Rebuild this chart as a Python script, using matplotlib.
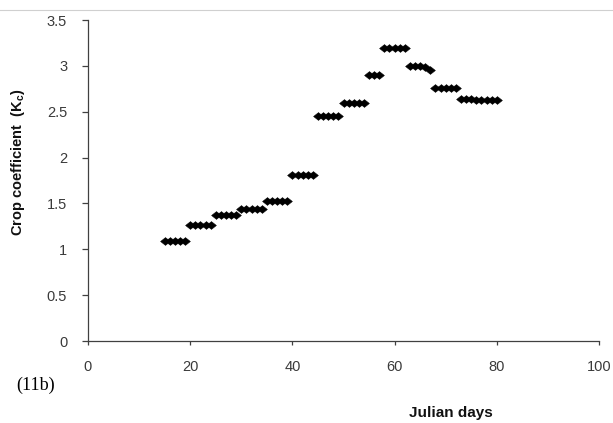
import matplotlib
matplotlib.use("Agg")
import matplotlib.pyplot as plt
from matplotlib.lines import Line2D

days = list(range(15, 81))
kc = ([1.09]*5 + [1.26]*5 + [1.37]*5 + [1.44]*5 + [1.53]*5 + [1.81]*5 +
      [2.45]*5 + [2.60]*5 + [2.90]*3 + [3.20]*5 +
      [3.00, 3.00, 3.00, 2.99, 2.96] + [2.76]*5 +
      [2.64, 2.64, 2.64, 2.63, 2.63, 2.63, 2.63, 2.63])

xticks = [0, 20, 40, 60, 80, 100]
yticks = [0, 0.5, 1, 1.5, 2, 2.5, 3, 3.5]
ytick_labels = ["0", "0.5", "1", "1.5", "2", "2.5", "3", "3.5"]

plt.rcParams['font.family'] = ['Liberation Sans', 'DejaVu Sans']
fig = plt.figure(figsize=(6.13, 4.23), dpi=100)
ax = fig.add_axes([88/613, 1-341/423, (599-88)/613, (341-20)/423])
diamond = [(-1.25, 0), (0, 1), (1.25, 0), (0, -1), (-1.25, 0)]
ax.plot(days, kc, linestyle='none', marker=diamond, markersize=7, color='black',
        markeredgewidth=0.4)
ax.set_xlim(0, 100)
ax.set_ylim(0, 3.5)
ax.set_xticks(xticks)
ax.set_yticks(yticks)
ax.set_yticklabels(ytick_labels)
for s in ['top', 'right']:
    ax.spines[s].set_visible(False)
for s in ['left', 'bottom']:
    ax.spines[s].set_color('#404040')
    ax.spines[s].set_linewidth(0.9)
ax.tick_params(axis='y', direction='out', length=4.5, width=0.9, color='#404040',
               labelsize=10.5, labelcolor='#3a3a3a', pad=10.5)
ax.tick_params(axis='x', direction='out', length=3, width=0.9, color='#404040',
               labelsize=10.5, labelcolor='#3a3a3a', pad=11)
fig.text(18/613, 1-162/423, "Crop coefficient  (K$_\\mathregular{c}$)", fontsize=10.5,
         fontweight='bold', rotation=90, ha='center', va='center', color='#111111')
fig.text(451/613, 1-413/423, "Julian days", fontsize=11, fontweight='bold',
         ha='center', va='center', color='#111111')
fig.text(16/613, 1-385/423, "(11b)", fontsize=13, family='Liberation Serif',
         ha='left', va='center')
fig.add_artist(Line2D([0, 1], [1-10/423, 1-10/423], color='#d0d0d0', linewidth=0.8,
                      transform=fig.transFigure))
fig.savefig("out.png", dpi=100)
